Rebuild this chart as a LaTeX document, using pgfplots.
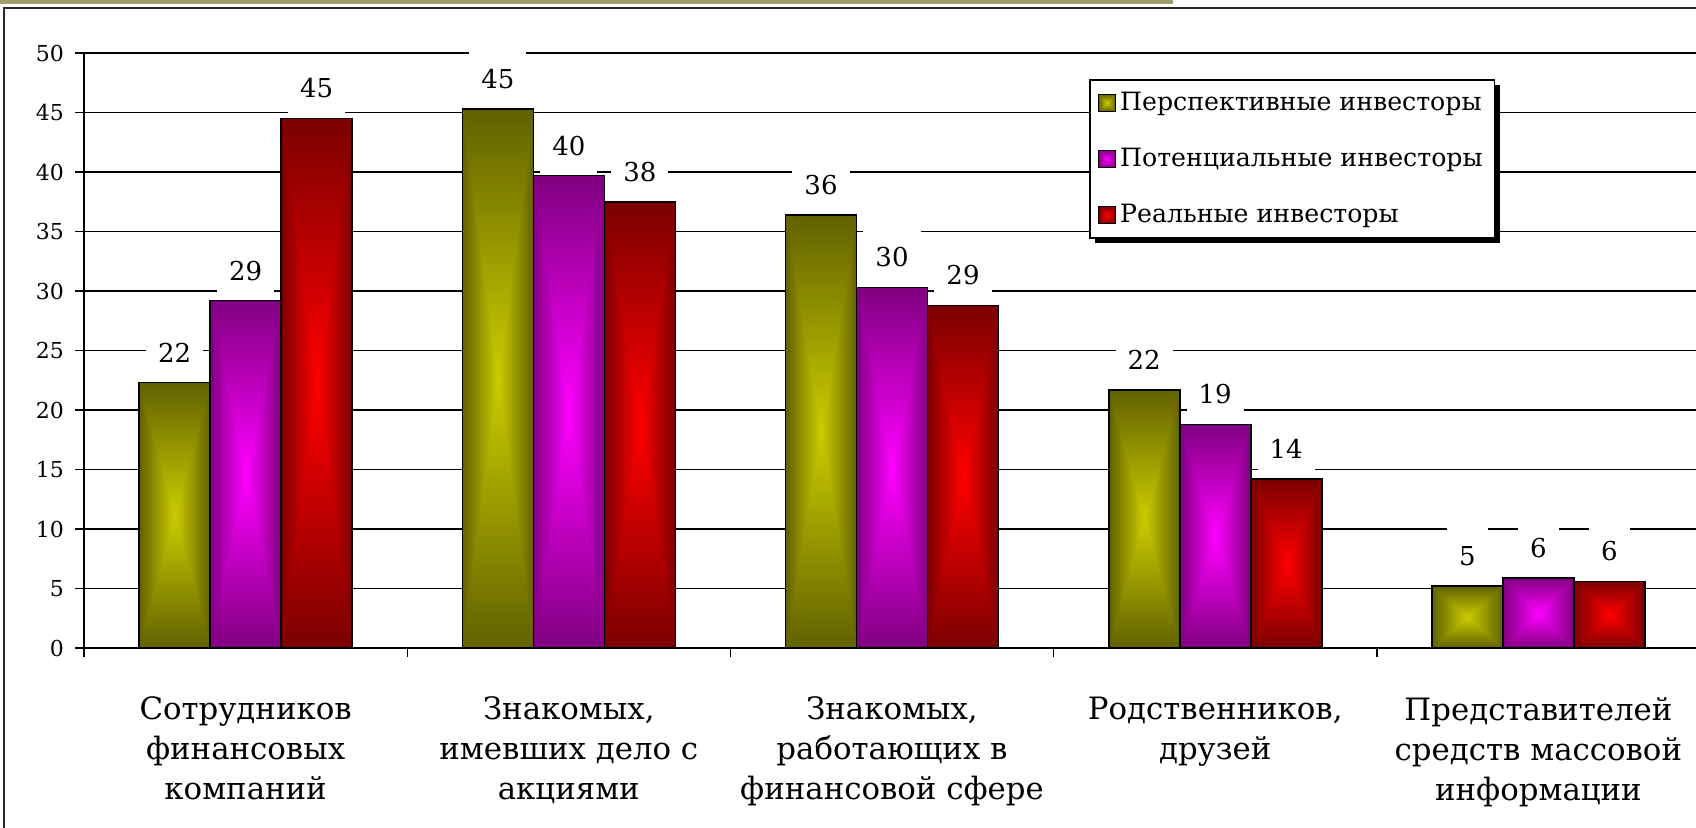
\documentclass[border=0pt]{standalone}
\usepackage{fontspec}
\setmainfont{DejaVu Serif}
\newfontfamily\ls{DejaVu Serif}
\usepackage{pgfplots}
\pgfplotsset{compat=1.18}
\usetikzlibrary{shadows}

\definecolor{stripcol}{RGB}{160,158,110}
\definecolor{framecol}{RGB}{40,40,40}

% rectangular "from centre" gradients (path box = central 50bp square)
\pgfdeclarefunctionalshading{oliveSh}{\pgfpoint{-50bp}{-50bp}}{\pgfpoint{50bp}{50bp}}{}{
  abs 25 div exch abs 25 div
  2 copy sub abs add add 2 div
  dup 1 gt {pop 1} if
  -0.42 mul 0.8 add dup 0
}
\pgfdeclarefunctionalshading{purpleSh}{\pgfpoint{-50bp}{-50bp}}{\pgfpoint{50bp}{50bp}}{}{
  abs 25 div exch abs 25 div
  2 copy sub abs add add 2 div
  dup 1 gt {pop 1} if
  -0.5 mul 1 add dup 0 exch
}
\pgfdeclarefunctionalshading{redSh}{\pgfpoint{-50bp}{-50bp}}{\pgfpoint{50bp}{50bp}}{}{
  abs 25 div exch abs 25 div
  2 copy sub abs add add 2 div
  dup 1 gt {pop 1} if
  -0.52 mul 1 add 0 0
}

\newcommand{\legsq}[1]{%
  \pgfpathrectangle{\pgfpoint{0pt}{-4.25pt}}{\pgfpoint{8.5pt}{8.5pt}}%
  \pgfshadepath{#1}{0}%
  \pgfsetlinewidth{0.6pt}\pgfsetstrokecolor{black}%
  \pgfusepath{stroke}}

\pgfplotsset{
  barbase/.style={ybar, bar width=35.5pt, draw=black, line width=0.8pt, shade},
  olv/.style={barbase, shading=oliveSh, bar shift=-35.5pt, every node near coord/.append style={xshift=-35.5pt}, legend image code/.code={\legsq{oliveSh}}},
  prp/.style={barbase, shading=purpleSh, bar shift=0pt, legend image code/.code={\legsq{purpleSh}}},
  red/.style={barbase, shading=redSh, bar shift=35.5pt, every node near coord/.append style={xshift=35.5pt}, legend image code/.code={\legsq{redSh}}},
}

\begin{document}
\begin{tikzpicture}[font=\ls]
\path[use as bounding box] (0,0) rectangle (848pt,-413.5pt);
\fill[stripcol] (0,0) rectangle (586.5pt,-2.2pt);
\draw[line width=1pt, framecol] (2pt,-420pt) -- (2pt,-4pt) -- (852pt,-4pt);
\begin{axis}[
  at={(42pt,-324pt)}, anchor=south west,
  scale only axis, width=808pt, height=297.5pt,
  xmin=-0.5, xmax=4.5, ymin=0, ymax=50,
  clip=false,
  axis x line*=bottom, axis y line*=left,
  axis line style={-, line width=0.7pt, black},
  ytick={0,5,...,50},
  ymajorgrids, grid style={line width=0.7pt, black},
  xtick={-0.5,0.5,1.5,2.5,3.5},
  xticklabels={},
  extra x ticks={0,1,2,3,4},
  extra x tick labels={{Сотрудников\\финансовых\\компаний},{Знакомых,\\имевших дело с\\акциями},{Знакомых,\\работающих в\\финансовой сфере},{Родственников,\\друзей},{Представителей\\средств массовой\\информации}},
  extra x tick style={major tick length=0pt, xticklabel style={font=\ls\fontsize{15.4}{20}\selectfont, align=center, anchor=north, yshift=-21pt}},
  tick align=outside, major tick length=4.5pt,
  tick style={line width=0.7pt, black},
  yticklabel style={font=\ls\fontsize{11}{13}\selectfont, xshift=-2pt},
  /pgf/number format/assume math mode=true,
  nodes near coords,
  point meta=explicit symbolic,
  nodes near coords style={font=\ls\fontsize{13}{15}\selectfont, shade=false, fill=white, draw=none, text=black, inner xsep=6pt, minimum height=28pt, anchor=south, yshift=0.6pt},
  legend cell align=left,
  legend style={at={(0.622,0.956)}, anchor=north west, draw=black, line width=0.8pt, fill=white,
    font=\ls\fontsize{12.6}{15}\selectfont, row sep=13.4pt, inner xsep=4pt, inner ysep=4pt,
    /tikz/every even column/.append style={column sep=4pt},
    drop shadow={shadow xshift=2.5pt, shadow yshift=-2.5pt, fill=black, opacity=1}},
]
\addplot[olv] coordinates {(0,22.3) [22]};
\addplot[prp] coordinates {(0,29.2) [29]};
\addplot[red] coordinates {(0,44.5) [45]};
\addplot[olv, forget plot] coordinates {(1,45.3) [45]};
\addplot[prp, forget plot] coordinates {(1,39.7) [40]};
\addplot[red, forget plot] coordinates {(1,37.5) [38]};
\addplot[olv, forget plot] coordinates {(2,36.4) [36]};
\addplot[prp, forget plot] coordinates {(2,30.3) [30]};
\addplot[red, forget plot] coordinates {(2,28.8) [29]};
\addplot[olv, forget plot] coordinates {(3,21.7) [22]};
\addplot[prp, forget plot] coordinates {(3,18.8) [19]};
\addplot[red, forget plot] coordinates {(3,14.2) [14]};
\addplot[olv, forget plot] coordinates {(4,5.2) [5]};
\addplot[prp, forget plot] coordinates {(4,5.9) [6]};
\addplot[red, forget plot] coordinates {(4,5.6) [6]};
\legend{Перспективные инвесторы, Потенциальные инвесторы, Реальные инвесторы}
\end{axis}
\end{tikzpicture}
\end{document}
